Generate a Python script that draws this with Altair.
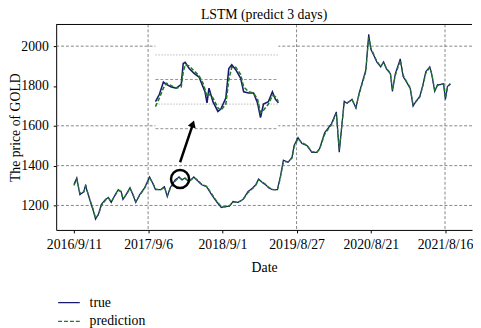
import altair as alt
import pandas as pd

# ---------------- data ----------------
dates = ["2016-09-11","2016-09-25","2016-10-10","2016-10-29","2016-11-07","2016-11-12","2016-12-01","2016-12-15","2016-12-25","2017-01-08",
         "2017-01-22","2017-02-11","2017-02-25","2017-03-11","2017-03-30","2017-04-14","2017-04-28","2017-05-07","2017-05-22","2017-06-10",
         "2017-06-24","2017-07-08","2017-07-27","2017-08-20","2017-09-13","2017-09-27","2017-10-12","2017-11-05","2017-11-24","2017-12-08",
         "2017-12-22","2018-01-15","2018-02-03","2018-02-17","2018-03-04","2018-03-23","2018-04-16","2018-04-30","2018-05-24","2018-06-17",
         "2018-07-11","2018-08-03","2018-08-27","2018-09-20","2018-10-04","2018-10-23","2018-11-16","2018-12-10","2019-01-03","2019-01-27",
         "2019-02-10","2019-02-24","2019-03-15","2019-03-30","2019-04-13","2019-05-02","2019-05-26","2019-06-09","2019-06-24","2019-07-17",
         "2019-08-05","2019-08-15","2019-09-03","2019-09-22","2019-10-16","2019-11-09","2019-12-03","2019-12-17","2020-01-10","2020-02-12",
         "2020-03-07","2020-03-21","2020-04-14","2020-04-28","2020-05-22","2020-06-10","2020-06-25","2020-07-09","2020-07-28","2020-08-02",
         "2020-08-11","2020-08-21","2020-09-04","2020-09-19","2020-10-08","2020-10-22","2020-11-05","2020-11-24","2020-12-04","2020-12-18",
         "2021-01-11","2021-01-25","2021-02-09","2021-02-28","2021-03-14","2021-03-28","2021-04-16","2021-05-01","2021-05-15","2021-06-03",
         "2021-06-13","2021-06-27","2021-07-11","2021-07-25","2021-08-09","2021-08-18","2021-08-28","2021-09-11"]

true_price = [1305,1338,1254,1269,1304,1279,1215,1170,1131,1156,
              1205,1230,1240,1215,1254,1279,1269,1230,1254,1289,
              1254,1215,1254,1289,1343,1314,1279,1279,1294,1244,
              1289,1328,1343,1328,1338,1319,1343,1328,1304,1294,
              1254,1220,1190,1195,1195,1220,1215,1230,1269,1289,
              1304,1333,1314,1304,1289,1279,1279,1343,1427,1417,
              1442,1501,1541,1511,1501,1467,1467,1486,1565,1610,
              1670,1467,1723,1713,1733,1689,1763,1812,1881,1945,
              2059,1985,1955,1921,1896,1921,1886,1862,1773,1862,
              1936,1847,1822,1788,1699,1723,1748,1807,1872,1896,
              1857,1773,1807,1807,1812,1733,1797,1812]

pred_price = [1300,1330,1262,1266,1298,1282,1220,1176,1138,1152,
              1198,1226,1238,1219,1250,1275,1271,1234,1251,1285,
              1258,1219,1250,1285,1336,1318,1283,1277,1291,1249,
              1284,1322,1340,1331,1336,1322,1338,1331,1307,1296,
              1259,1224,1194,1193,1197,1217,1217,1228,1264,1286,
              1301,1328,1317,1306,1292,1281,1278,1336,1418,1420,
              1438,1492,1535,1515,1503,1470,1466,1483,1556,1605,
              1662,1480,1712,1716,1730,1694,1755,1806,1873,1938,
              2045,1992,1960,1925,1899,1918,1890,1865,1782,1853,
              1928,1855,1826,1792,1708,1720,1745,1801,1864,1892,
              1861,1780,1803,1808,1811,1740,1792,1810]

# zoomed inset (trading-day index inside the circled window)
inset_day = [0,4,8,11,16,21,26,28,30,34,39,44,48,50,52,54,58,63,66,71,
             74,77,81,86,89,94,99,103,106,109,114,118,121,124]
inset_true = [1322,1328,1338,1336,1334,1333,1336,1353,1354,1349,
              1345,1342,1334,1330,1321,1333,1322,1314,1316,1325,
              1349,1352,1348,1341,1330,1329,1329,1321,1309,1320,
              1322,1330,1324,1321]
inset_pred = [1318,1325,1333,1337,1335,1333,1334,1346,1352,1351,
              1347,1343,1337,1332,1326,1328,1325,1317,1315,1320,
              1340,1350,1350,1344,1334,1330,1329,1324,1313,1315,
              1320,1327,1326,1322]

tick_dates = ["2016-09-11","2017-09-06","2018-09-01","2019-08-27","2020-08-21","2021-08-16"]
grid_dates = ["2017-09-06","2019-08-27","2021-08-16"]
y_ticks = [1200,1400,1600,1800,2000]
grid_prices = [1200,1400,1600,2000]
inset_grid_dash = [1300,1340]
inset_grid_dot = [1320,1360]
circle_date = ["2018-02-08"]
circle_price = [1333]
arrow_dates = ["2018-02-08","2018-04-10"]
arrow_prices = [1417,1605]
head_date = ["2018-04-11"]
head_price = [1610]

FONT = "Liberation Serif"
NAVY = "#1a1a6e"
GREEN = "#1f7a2a"

def dt(s):
    y, m, d = (int(v) for v in s.split("-"))
    return alt.DateTime(year=y, month=m, date=d, utc=True)

xs = alt.Scale(type="utc", domain=[dt("2016-06-17"), dt("2021-12-25")])
ys = alt.Scale(domain=[1077, 2109], nice=False, zero=False)
ixs = alt.Scale(domain=[0, 124], range=[101, 226], nice=False, zero=False)
iys = alt.Scale(domain=[1300, 1360], range=[106, 31], nice=False, zero=False)

# ---------------- main grid ----------------
grid_h = alt.Chart(pd.DataFrame({"price": grid_prices})).mark_rule(
    color="#666666", strokeDash=[3, 2], strokeWidth=0.8
).encode(y=alt.Y("price:Q", scale=ys, axis=None))

grid_v = alt.Chart(pd.DataFrame({"date": grid_dates})).mark_rule(
    color="#666666", strokeDash=[3, 2], strokeWidth=0.8
).encode(x=alt.X("date:T", scale=xs, axis=None))

# ---------------- inset ----------------
inset_bg = alt.Chart(pd.DataFrame({"a": [0]})).mark_rect(color="white").encode(
    x=alt.value(101), x2=alt.value(226), y=alt.value(18), y2=alt.value(109)
)
inset_g1 = alt.Chart(pd.DataFrame({"v": inset_grid_dash})).mark_rule(
    color="#777777", strokeDash=[3, 2], strokeWidth=0.8
).encode(y=alt.Y("v:Q", scale=iys, axis=None), x=alt.value(101), x2=alt.value(226))
inset_g2 = alt.Chart(pd.DataFrame({"v": inset_grid_dot})).mark_rule(
    color="#bbbbbb", strokeDash=[1.5, 1.5], strokeWidth=1
).encode(y=alt.Y("v:Q", scale=iys, axis=None), x=alt.value(101), x2=alt.value(226))

inset_df = pd.DataFrame({"day": inset_day, "t": inset_true, "p": inset_pred})
inset_t = alt.Chart(inset_df).mark_line(color=NAVY, strokeWidth=1.6).encode(
    x=alt.X("day:Q", scale=ixs, axis=None), y=alt.Y("t:Q", scale=iys, axis=None))
inset_p = alt.Chart(inset_df).mark_line(color=GREEN, strokeWidth=1.6, strokeDash=[4, 2]).encode(
    x=alt.X("day:Q", scale=ixs, axis=None), y=alt.Y("p:Q", scale=iys, axis=None))

# ---------------- main lines ----------------
long_df = pd.concat([
    pd.DataFrame({"date": dates, "price": true_price, "series": "true"}),
    pd.DataFrame({"date": dates, "price": pred_price, "series": "prediction"}),
], ignore_index=True)

legend = alt.Legend(title=None, orient="none", legendX=1, legendY=271, symbolType="stroke",
                    symbolSize=484, symbolStrokeWidth=1.4, labelFont=FONT, labelFontSize=14,
                    labelColor="black", rowPadding=-1, labelOffset=9, padding=0)

lines = alt.Chart(long_df).mark_line(strokeWidth=1.3).encode(
    x=alt.X("date:T", scale=xs, title="Date",
            axis=alt.Axis(values=[dt(s) for s in tick_dates], format="%Y/%-m/%-d", grid=False,
                          tickSize=3, labelPadding=5, titlePadding=9, labelOverlap=False)),
    y=alt.Y("price:Q", scale=ys, title="The price of GOLD",
            axis=alt.Axis(values=y_ticks, format="d", grid=False, tickSize=3, labelPadding=5, titlePadding=-1.5)),
    color=alt.Color("series:N", scale=alt.Scale(domain=["true", "prediction"], range=[NAVY, GREEN]), legend=legend),
    strokeDash=alt.StrokeDash("series:N", scale=alt.Scale(domain=["true", "prediction"], range=[[1, 0], [4, 2]]), legend=legend),
)

# ---------------- annotations ----------------
circle = alt.Chart(pd.DataFrame({"date": circle_date, "price": circle_price})).mark_point(
    shape="circle", size=340, filled=False, stroke="black", strokeWidth=2.5, opacity=1
).encode(x=alt.X("date:T", scale=xs, axis=None), y=alt.Y("price:Q", scale=ys, axis=None))

arrow = alt.Chart(pd.DataFrame({"date": arrow_dates, "price": arrow_prices})).mark_line(
    color="black", strokeWidth=2.5
).encode(x=alt.X("date:T", scale=xs, axis=None), y=alt.Y("price:Q", scale=ys, axis=None))

head = alt.Chart(pd.DataFrame({"date": head_date, "price": head_price})).mark_point(
    shape="triangle-up", size=70, filled=True, color="black", angle=19, opacity=1
).encode(x=alt.X("date:T", scale=xs, axis=None), y=alt.Y("price:Q", scale=ys, axis=None))

top_line = alt.Chart(pd.DataFrame({"a": [0]})).mark_rule(color="black", strokeWidth=1).encode(
    x=alt.value(0), x2=alt.value(423), y=alt.value(0))

chart = alt.layer(
    grid_h, grid_v, inset_bg, inset_g1, inset_g2, inset_t, inset_p,
    lines, circle, arrow, head, top_line
).resolve_scale(
    x="independent", y="independent"
).properties(
    width=423, height=209,
    autosize=alt.AutoSizeParams(type="none"),
    padding={"left": 49, "top": 14, "right": 1, "bottom": 97},
    title=alt.TitleParams("LSTM (predict 3 days)", font=FONT, fontSize=14, fontWeight="normal",
                          color="black", offset=2, anchor="middle"),
).configure_view(stroke=None).configure_axis(
    labelFont=FONT, labelFontSize=14, labelColor="black",
    titleFont=FONT, titleFontSize=14, titleFontWeight="normal", titleColor="black",
    domainColor="black", domainWidth=1, tickColor="black",
)

chart.save("out.html", embed_options={"renderer": "svg", "actions": False})
